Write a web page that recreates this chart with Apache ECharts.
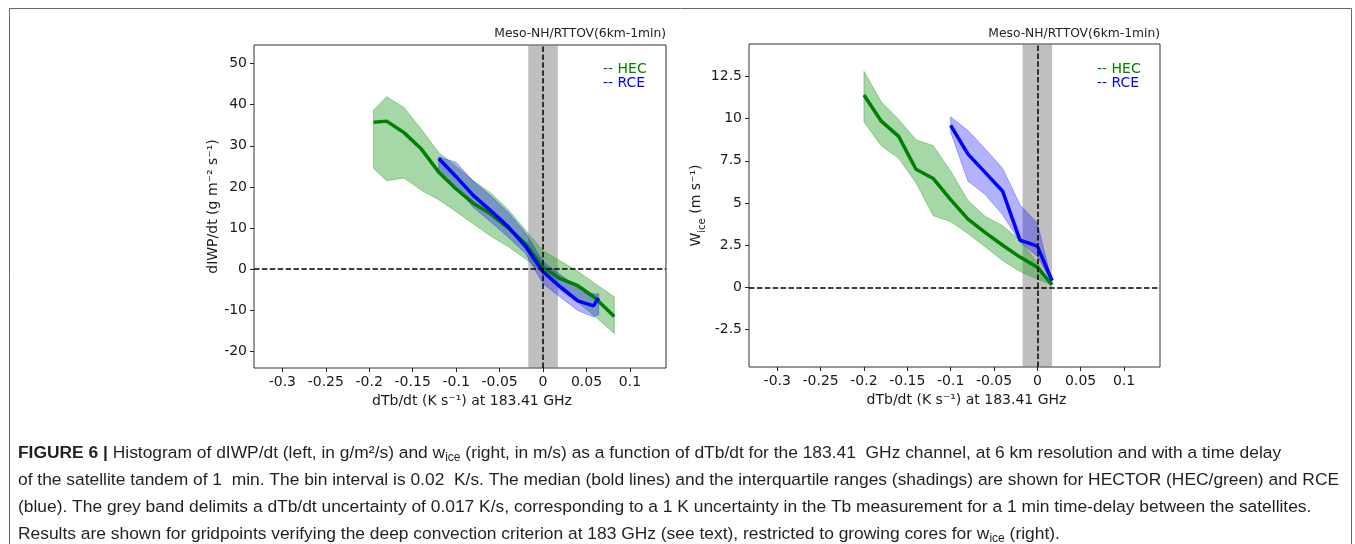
<!DOCTYPE html>
<html><head><meta charset="utf-8">
<script src="https://cdn.jsdelivr.net/npm/echarts@6/dist/echarts.min.js"></script>
<style>html,body{margin:0;padding:0;background:#fff}#c{width:1355px;height:544px}</style>
</head><body><div id="c"></div>
<script>
// ---- tick labels ----
const xTicks = [-0.3, -0.25, -0.2, -0.15, -0.1, -0.05, 0, 0.05, 0.1];
const yTicksL = [-20, -10, 0, 10, 20, 30, 40, 50];
const yTicksR = [-2.5, 0, 2.5, 5, 7.5, 10, 12.5];

// ---- left panel: dIWP/dt ----
const hecXL   = [-0.195, -0.18, -0.16, -0.14, -0.12, -0.10, -0.08, -0.06, -0.04, -0.02, 0, 0.02, 0.04, 0.06, 0.082];
const hecMedL = [35.7, 36.0, 33.2, 29.2, 23.6, 19.5, 16.0, 13.4, 10.0, 6.2, 0.5, -2.3, -4.0, -7.0, -11.5];
const hecHiL  = [38.7, 41.9, 39.3, 34.0, 28.3, 25.0, 21.5, 18.5, 14.5, 9.5, 4.5, 2.0, -0.5, -3.5, -6.7];
const hecLoL  = [24.5, 21.5, 22.2, 19.2, 16.9, 14.0, 11.0, 8.0, 5.5, 2.5, -1.0, -5.0, -8.0, -11.5, -15.6];

const rceXL   = [-0.12, -0.10, -0.08, -0.06, -0.04, -0.02, 0, 0.02, 0.04, 0.058, 0.064];
const rceMedL = [26.9, 22.5, 17.9, 14.2, 10.3, 5.5, -0.6, -4.3, -7.7, -8.9, -7.0];
const rceHiL  = [27.3, 26.0, 21.3, 17.8, 13.8, 8.8, 1.8, -1.3, -4.5, -6.0, -6.0];
const rceLoL  = [23.8, 19.8, 15.0, 11.5, 7.8, 3.8, -3.5, -6.8, -10.0, -11.6, -11.0];

// ---- right panel: w_ice ----
const hecXR   = [-0.2, -0.18, -0.16, -0.14, -0.12, -0.10, -0.08, -0.06, -0.04, -0.02, 0, 0.017];
const hecMedR = [11.4, 9.85, 8.95, 7.0, 6.45, 5.2, 4.05, 3.25, 2.5, 1.8, 1.2, 0.15];
const hecHiR  = [12.8, 11.0, 9.95, 8.75, 8.4, 6.9, 5.15, 4.2, 3.65, 2.8, 1.45, 0.15];
const hecLoR  = [9.8, 8.4, 7.65, 6.2, 4.25, 3.9, 3.2, 2.4, 1.6, 0.95, 0.5, 0.15];

const rceXR   = [-0.10, -0.08, -0.06, -0.04, -0.02, 0, 0.017];
const rceMedR = [9.6, 7.9, 6.8, 5.7, 2.8, 2.45, 0.4];
const rceHiR  = [10.1, 9.3, 8.2, 7.05, 4.9, 3.8, 0.3];
const rceLoR  = [9.2, 6.3, 5.5, 4.3, 2.7, 1.85, 0.27];

const uncert = 0.017;
const panelTitle = 'Meso-NH/RTTOV(6km-1min)';
const captionLines = [
  '{b|FIGURE 6 |}{n| Histogram of dIWP/dt (left, in g/m²/s) and w}{s|ice}{n| (right, in m/s) as a function of dTb/dt for the 183.41  GHz channel, at 6 km resolution and with a time delay}',
  '{n|of the satellite tandem of 1  min. The bin interval is 0.02  K/s. The median (bold lines) and the interquartile ranges (shadings) are shown for HECTOR (HEC/green) and RCE}',
  '{n|(blue). The grey band delimits a dTb/dt uncertainty of 0.017 K/s, corresponding to a 1 K uncertainty in the Tb measurement for a 1 min time-delay between the satellites.}',
  '{n|Results are shown for gridpoints verifying the deep convection criterion at 183 GHz (see text), restricted to growing cores for w}{s|ice}{n| (right).}'
];

// ---- styles ----
const FONT = 'DejaVu Sans';
const GREEN = '#008000', BLUE = '#0000ff';
const GREEN_FILL = 'rgba(44,160,44,0.42)', BLUE_FILL = 'rgba(0,0,255,0.3)';
const CAP = 17.4;

function band(xs, lo, hi, fill, idx) {
  const data = xs.map((x, i) => [x, lo[i], hi[i]]);
  return {
    type: 'custom', xAxisIndex: idx, yAxisIndex: idx, z: 1, silent: true, clip: true,
    data: data, encode: { x: 0, y: [1, 2] },
    renderItem: function (params, api) {
      if (params.dataIndex !== 0) return null;
      const up = [], dn = [];
      for (const d of data) { up.push(api.coord([d[0], d[2]])); dn.push(api.coord([d[0], d[1]])); }
      return { type: 'polygon', shape: { points: up.concat(dn.reverse()) },
               style: { fill: fill, stroke: fill, lineWidth: 1 } };
    }
  };
}
function line(xs, ys, color, idx, z) {
  return { type: 'line', xAxisIndex: idx, yAxisIndex: idx, z: z, silent: true,
    data: xs.map((x, i) => [x, ys[i]]), showSymbol: false, symbol: 'none',
    lineStyle: { color: color, width: 3.5 }, animation: false };
}
function refs(idx) {
  return [
    { type: 'line', xAxisIndex: idx, yAxisIndex: idx, z: 2, data: [], silent: true,
      markArea: { silent: true, itemStyle: { color: 'rgba(128,128,128,0.5)' },
        data: [[{ xAxis: -uncert }, { xAxis: uncert }]] } },
    { type: 'line', xAxisIndex: idx, yAxisIndex: idx, z: 5, data: [], silent: true,
      markLine: { silent: true, symbol: 'none', label: { show: false }, animation: false,
        lineStyle: { color: '#000', width: 1.5, type: [5.5, 2.4] },
        data: [{ xAxis: 0 }, { yAxis: 0 }] } }
  ];
}
function xAxis(idx) {
  return { type: 'value', gridIndex: idx, min: -0.3326, max: 0.1415,
    splitLine: { show: false }, axisLine: { show: false, onZero: false },
    axisTick: { show: true, length: 4, customValues: xTicks, lineStyle: { color: '#222', width: 1 } },
    axisLabel: { customValues: xTicks, margin: 7, fontFamily: FONT, fontSize: 14, color: '#1a1a1a',
      formatter: v => String(v) },
    name: 'dTb/dt (K s⁻¹) at 183.41 GHz', nameLocation: 'middle', nameGap: 20,
    nameTextStyle: { fontFamily: FONT, fontSize: 14, color: '#1a1a1a', padding: [0, 0, 0, 24] } };
}

const chart = echarts.init(document.getElementById('c'), null, { renderer: 'canvas' });
chart.setOption({
  animation: false,
  backgroundColor: '#fff',
  title: [
    { text: panelTitle, right: 1355 - 666, top: 28, padding: 0,
      textStyle: { fontFamily: FONT, fontSize: 12.3, fontWeight: 'normal', color: '#222' } },
    { text: panelTitle, right: 1355 - 1160, top: 28, padding: 0,
      textStyle: { fontFamily: FONT, fontSize: 12.3, fontWeight: 'normal', color: '#222' } }
  ],
  grid: [
    { left: 254, top: 45, width: 412, height: 323, show: true, borderColor: '#333', borderWidth: 1, backgroundColor: 'transparent' },
    { left: 749, top: 44, width: 411, height: 323, show: true, borderColor: '#333', borderWidth: 1, backgroundColor: 'transparent' }
  ],
  xAxis: [xAxis(0), xAxis(1)],
  yAxis: [
    { type: 'value', gridIndex: 0, min: -24, max: 54.5, splitLine: { show: false }, axisLine: { show: false, onZero: false },
      axisTick: { show: true, length: 4, customValues: yTicksL, lineStyle: { color: '#222' } },
      axisLabel: { customValues: yTicksL, margin: 7, fontFamily: FONT, fontSize: 14, color: '#1a1a1a' },
      name: 'dIWP/dt (g m⁻² s⁻¹)', nameLocation: 'middle', nameGap: 33, nameRotate: 90,
      nameTextStyle: { fontFamily: FONT, fontSize: 14, color: '#1a1a1a' } },
    { type: 'value', gridIndex: 1, min: -4.71, max: 14.42, splitLine: { show: false }, axisLine: { show: false, onZero: false },
      axisTick: { show: true, length: 4, customValues: yTicksR, lineStyle: { color: '#222' } },
      axisLabel: { customValues: yTicksR, margin: 7, fontFamily: FONT, fontSize: 14, color: '#1a1a1a',
        formatter: v => String(v) },
      name: '{a|W}{s|ice}{a| (m s⁻¹)}', nameLocation: 'middle', nameGap: 32, nameRotate: 90,
      nameTextStyle: { fontFamily: FONT, fontSize: 14, color: '#1a1a1a',
        rich: { a: { fontFamily: FONT, fontSize: 14, color: '#1a1a1a', lineHeight: 16, verticalAlign: 'top' },
                s: { fontFamily: FONT, fontSize: 10, color: '#1a1a1a', lineHeight: 10, padding: [8, 0, 0, 0], verticalAlign: 'top' } } } }
  ],
  graphic: [
    { type: 'rect', silent: true, shape: { x: 9.5, y: 8.5, width: 1342, height: 600 },
      style: { fill: null, stroke: '#666', lineWidth: 1 } },
    { type: 'text', x: 603, y: 62, style: { text: '-- HEC', fill: GREEN, font: '14px "DejaVu Sans"' } },
    { type: 'text', x: 603, y: 76, style: { text: '-- RCE', fill: BLUE, font: '14px "DejaVu Sans"' } },
    { type: 'text', x: 1097, y: 62, style: { text: '-- HEC', fill: GREEN, font: '14px "DejaVu Sans"' } },
    { type: 'text', x: 1097, y: 76, style: { text: '-- RCE', fill: BLUE, font: '14px "DejaVu Sans"' } }
  ].concat(captionLines.map((t, i) => ({
    type: 'text', x: 18, y: 453 + i * 27, silent: true,
    style: { text: t, fill: '#231f20', verticalAlign: 'middle',
      rich: {
        b: { fontFamily: 'Liberation Sans', fontWeight: 'bold', fontSize: CAP, fill: '#231f20' },
        n: { fontFamily: 'Liberation Sans', fontSize: CAP, fill: '#231f20' },
        s: { fontFamily: 'Liberation Sans', fontSize: 12, fill: '#231f20', padding: [10, 0, 0, 0] }
      } }
  }))),
  series: [
    band(hecXL, hecLoL, hecHiL, GREEN_FILL, 0),
    band(rceXL, rceLoL, rceHiL, BLUE_FILL, 0),
    band(hecXR, hecLoR, hecHiR, GREEN_FILL, 1),
    band(rceXR, rceLoR, rceHiR, BLUE_FILL, 1),
    ...refs(0), ...refs(1),
    line(hecXL, hecMedL, GREEN, 0, 3),
    line(rceXL, rceMedL, BLUE, 0, 4),
    line(hecXR, hecMedR, GREEN, 1, 3),
    line(rceXR, rceMedR, BLUE, 1, 4)
  ]
});
</script></body></html>
